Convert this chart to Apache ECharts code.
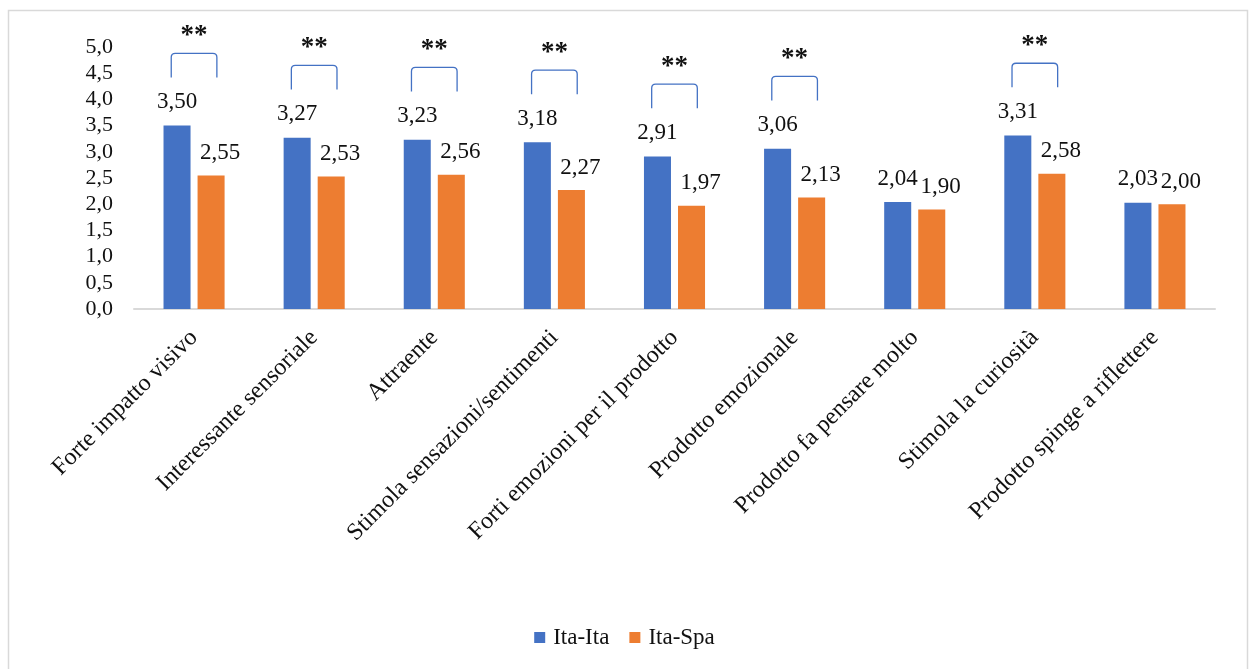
<!DOCTYPE html>
<html>
<head>
<meta charset="utf-8">
<script src="https://cdn.jsdelivr.net/npm/echarts@6/dist/echarts.min.js"></script>
<style>
  html, body { margin: 0; padding: 0; background: #fff; }
  #chart { width: 1249px; height: 669px; }
</style>
</head>
<body>
<div id="chart"></div>
<script>
// Mean ratings per item, two groups
const categories = [
  'Forte impatto visivo',
  'Interessante sensoriale',
  'Attraente',
  'Stimola sensazioni/sentimenti',
  'Forti emozioni per il prodotto',
  'Prodotto emozionale',
  'Prodotto fa pensare molto',
  'Stimola la curiosità',
  'Prodotto spinge a riflettere'
];
const itaIta = [3.50, 3.27, 3.23, 3.18, 2.91, 3.06, 2.04, 3.31, 2.03];
const itaSpa = [2.55, 2.53, 2.56, 2.27, 1.97, 2.13, 1.90, 2.58, 2.00];
// Significance marker between the two groups for each item
const significance = ['**', '**', '**', '**', '**', '**', '', '**', ''];

const FONT = '"Liberation Serif", "Times New Roman", serif';
const BLUE = '#4472C4';
const ORANGE = '#ED7D31';

const comma = (v, d) => v.toFixed(d).replace('.', ',');

// one bracket per significant item, anchored on the taller bar
const bracketData = [];
significance.forEach((s, i) => {
  if (s) bracketData.push([i, Math.max(itaIta[i], itaSpa[i]), s]);
});

const chart = echarts.init(document.getElementById('chart'), null, { renderer: 'canvas' });

chart.setOption({
  animation: false,
  backgroundColor: '#fff',
  graphic: [{
    type: 'rect',
    shape: { x: 8.5, y: 10.5, width: 1239, height: 700 },
    style: { fill: 'none', stroke: '#d9d9d9', lineWidth: 1.5 },
    silent: true,
    z: -10
  }],
  grid: { left: 134, right: 34, top: 47, bottom: 360 },
  legend: {
    data: ['Ita-Ita', 'Ita-Spa'],
    bottom: 15,
    left: 'center',
    itemWidth: 11,
    itemHeight: 11,
    itemGap: 20,
    icon: 'rect',
    textStyle: { fontFamily: FONT, fontSize: 23, color: '#111', padding: [0, 0, 0, 3] }
  },
  xAxis: {
    type: 'category',
    data: categories,
    axisLine: { show: true, lineStyle: { color: '#d9d9d9', width: 2 } },
    axisTick: { show: false },
    axisLabel: {
      rotate: 45,
      interval: 0,
      margin: 25,
      fontFamily: FONT,
      fontSize: 24,
      color: '#111'
    }
  },
  yAxis: {
    type: 'value',
    min: 0,
    max: 5,
    interval: 0.5,
    splitLine: { show: false },
    axisLine: { show: false },
    axisTick: { show: false },
    axisLabel: {
      margin: 21,
      fontFamily: FONT,
      fontSize: 22,
      color: '#111',
      formatter: v => comma(v, 1)
    }
  },
  series: [
    {
      name: 'Ita-Ita',
      type: 'bar',
      data: itaIta,
      barWidth: '22.5%',
      barGap: '26%',
      itemStyle: { color: BLUE },
      label: {
        show: true,
        position: 'top',
        distance: 12,
        fontFamily: FONT,
        fontSize: 23,
        color: '#111',
        formatter: p => comma(p.value, 2)
      }
    },
    {
      name: 'Ita-Spa',
      type: 'bar',
      data: itaSpa,
      barWidth: '22.5%',
      barGap: '26%',
      itemStyle: { color: ORANGE },
      label: {
        show: true,
        position: 'top',
        distance: 11,
        offset: [9, 0],
        fontFamily: FONT,
        fontSize: 23,
        color: '#111',
        formatter: p => comma(p.value, 2)
      }
    },
    {
      name: 'significance',
      type: 'custom',
      data: bracketData,
      encode: { x: 0, y: 1 },
      clip: false,
      silent: true,
      z: 5,
      renderItem: (params, api) => {
        const idx = api.value(0);
        const v = api.value(1);
        const topPt = api.coord([idx, v + 1.38]);
        const footY = api.coord([idx, v + 0.92])[1];
        const half = api.size([1, 0])[0] * 0.19;
        const x0 = topPt[0] - half;
        const x1 = topPt[0] + half;
        const yt = topPt[1];
        const r = 4;
        const path = `M${x0} ${footY} L${x0} ${yt + r} Q${x0} ${yt} ${x0 + r} ${yt} ` +
                     `L${x1 - r} ${yt} Q${x1} ${yt} ${x1} ${yt + r} L${x1} ${footY}`;
        return {
          type: 'group',
          children: [
            {
              type: 'path',
              shape: { pathData: path },
              style: { fill: 'none', stroke: BLUE, lineWidth: 1.3 }
            },
            {
              type: 'text',
              x: topPt[0],
              y: yt - 4,
              style: {
                text: bracketData[params.dataIndex][2],
                font: `bold 27px ${FONT}`,
                fill: '#111',
                align: 'center',
                verticalAlign: 'bottom'
              }
            }
          ]
        };
      }
    }
  ]
});
</script>
</body>
</html>
